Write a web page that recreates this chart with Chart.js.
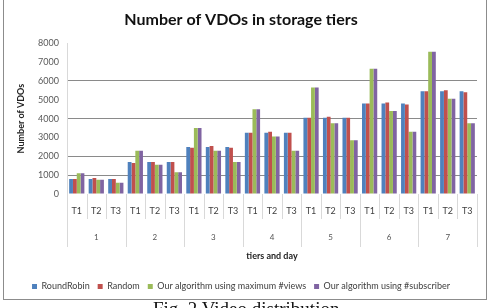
<!DOCTYPE html>
<html lang="en">
<head>
    <meta charset="UTF-8">
    <title>Number of VDOs in storage tiers</title>
    <style>
        body {
            margin: 0;
            background-color: #ffffff;
            overflow: hidden;
        }
        .wrap {
            position: relative;
            width: 489px;
            height: 308px;
        }
        .frame {
            position: absolute;
            left: 3px;
            top: -1px;
            width: 482px;
            height: 300px;
            border: 1px solid #8c8c8c;
            border-top: none;
        }
        canvas {
            position: absolute;
            left: 0;
            top: 0;
        }
        .caption {
            position: absolute;
            left: 153px;
            top: 298px;
            font-family: "Liberation Serif", serif;
            font-size: 19px;
            color: #111;
            white-space: nowrap;
        }
    </style>
</head>
<body>
    <div class="wrap">
        <div class="frame"></div>
        <canvas id="vdoChart" width="489" height="308"></canvas>
        <div class="caption">Fig. 2 Video distribution</div>
    </div>

    <script src="https://cdn.jsdelivr.net/npm/chart.js"></script>
    <script>
        // tiers on the x axis, one T1..T3 block per day
        const tiers = ['T1', 'T2', 'T3'];
        const days = ['1', '2', '3', '4', '5', '6', '7'];

        // values (T1, T2, T3 for day 1..7)
        const roundRobin = [800, 800, 800, 1700, 1700, 1700, 2500, 2500, 2500, 3250, 3250, 3250,
            4050, 4050, 4050, 4800, 4800, 4800, 5450, 5450, 5450];
        const random = [800, 850, 800, 1650, 1700, 1700, 2450, 2550, 2450, 3250, 3300, 3250,
            4050, 4100, 4050, 4800, 4850, 4750, 5450, 5500, 5400];
        const maxViews = [1100, 750, 600, 2300, 1550, 1150, 3500, 2300, 1700, 4500, 3050, 2300,
            5650, 3750, 2850, 6650, 4400, 3300, 7550, 5050, 3750];
        const subscriber = [1100, 750, 600, 2300, 1550, 1150, 3500, 2300, 1700, 4500, 3050, 2300,
            5650, 3750, 2850, 6650, 4400, 3300, 7550, 5050, 3750];

        const labels = [];
        days.forEach(d => tiers.forEach(t => labels.push(t)));

        const font = 'Lato, "Open Sans", sans-serif';

        // separator lines under the plot, long ones between days
        const separators = {
            id: 'separators',
            afterDraw(chart) {
                const c = chart.ctx;
                const x = chart.scales.x;
                const top = chart.chartArea.bottom;
                const step = x.width / labels.length;
                c.save();
                c.strokeStyle = '#d9d9d9';
                c.lineWidth = 1;
                for (let i = 0; i <= labels.length; i++) {
                    const px = Math.round(x.left + i * step) + 0.5;
                    const len = (i % 3 === 0) ? 53 : 25;
                    c.beginPath();
                    c.moveTo(px, top);
                    c.lineTo(px, top + len);
                    c.stroke();
                }
                c.restore();
            }
        };

        const shownGrid = [1000, 2000, 4000, 6000];

        new Chart(document.getElementById('vdoChart'), {
            type: 'bar',
            data: {
                labels: labels,
                datasets: [
                    { label: 'RoundRobin', data: roundRobin, backgroundColor: '#4f81bd' },
                    { label: 'Random', data: random, backgroundColor: '#c0504d' },
                    { label: 'Our algorithm using maximum #views', data: maxViews, backgroundColor: '#9bbb59' },
                    { label: 'Our algorithm using #subscriber', data: subscriber, backgroundColor: '#8064a2' }
                ]
            },
            options: {
                responsive: false,
                animation: false,
                layout: { padding: { left: 5, right: 12, top: 0, bottom: 7 } },
                datasets: {
                    bar: { categoryPercentage: 0.78, barPercentage: 1.0 }
                },
                plugins: {
                    title: {
                        display: true,
                        text: 'Number of VDOs in storage tiers',
                        color: '#111',
                        font: { family: font, size: 16, weight: 'bold' },
                        padding: { top: 10, bottom: 14 }
                    },
                    legend: {
                        position: 'bottom',
                        labels: {
                            boxWidth: 5,
                            boxHeight: 5,
                            padding: 8,
                            color: '#404040',
                            font: { family: font, size: 9 }
                        }
                    },
                    tooltip: { enabled: false }
                },
                scales: {
                    x: {
                        type: 'category',
                        grid: { display: false, drawTicks: false },
                        border: { display: false },
                        ticks: {
                            color: '#404040',
                            font: { family: font, size: 9 },
                            padding: 12,
                            maxRotation: 0,
                            autoSkip: false
                        },
                        afterFit(s) { s.height = 25; }
                    },
                    x2: {
                        type: 'category',
                        labels: days,
                        offset: true,
                        position: 'bottom',
                        grid: { display: false, drawTicks: false },
                        border: { display: false },
                        ticks: {
                            color: '#555',
                            font: { family: font, size: 8 },
                            padding: 14,
                            maxRotation: 0
                        },
                        title: {
                            display: true,
                            text: 'tiers and day',
                            color: '#222',
                            font: { family: font, size: 9, weight: 'bold' },
                            padding: { top: 0, bottom: 13 }
                        },
                        afterFit(s) { s.height = 55; }
                    },
                    y: {
                        min: 0,
                        max: 8000,
                        ticks: {
                            stepSize: 1000,
                            color: '#595959',
                            font: { family: font, size: 9 },
                            padding: 8,
                            callback: v => String(v)
                        },
                        grid: {
                            drawTicks: false,
                            color: ctx => shownGrid.includes(ctx.tick && ctx.tick.value) ? '#8a8a8a' : 'rgba(0,0,0,0)'
                        },
                        border: { color: '#d9d9d9' },
                        title: {
                            display: true,
                            text: 'Number of VDOs',
                            color: '#222',
                            font: { family: font, size: 9, weight: 'bold' },
                            padding: { top: 11, bottom: 0 }
                        },
                        afterFit(s) { s.width = 62; }
                    }
                }
            },
            plugins: [separators]
        });
    </script>
</body>
</html>
